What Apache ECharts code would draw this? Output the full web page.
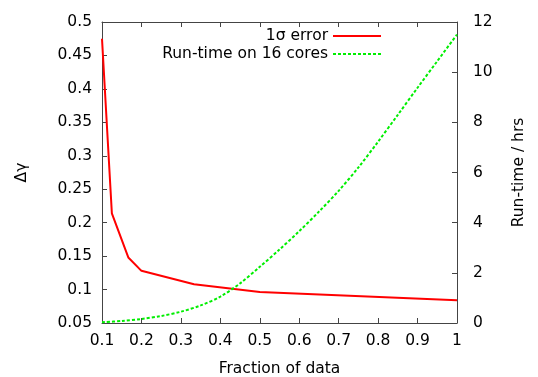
<!DOCTYPE html>
<html>
<head>
<meta charset="utf-8">
<script src="https://cdn.jsdelivr.net/npm/echarts@6/dist/echarts.min.js"></script>
<style>
  html, body { margin: 0; padding: 0; background: #fff; }
  #chart { width: 538px; height: 377px; }
</style>
</head>
<body>
<div id="chart"></div>
<script>
// 数据
const fraction = [0.1, 0.125, 0.1667, 0.2, 0.3333, 0.5, 1.0]
const errorVals = [0.475, 0.214, 0.148, 0.128, 0.108, 0.0963, 0.0839]

const runX = [0.1, 0.15, 0.2, 0.25, 0.3, 0.35, 0.4, 0.45, 0.5, 0.55,
              0.6, 0.65, 0.7, 0.75, 0.8, 0.85, 0.9, 0.95, 1.0]
const runHrs = [0.03, 0.08, 0.16, 0.28, 0.45, 0.7, 1.05, 1.58, 2.24, 2.93,
                3.66, 4.44, 5.27, 6.2, 7.23, 8.3, 9.38, 10.44, 11.5]

const font = 'DejaVu Sans'
const axisColor = '#444'

const chart = echarts.init(document.getElementById('chart'))

// 图例（两个，右对齐）
const legendBase = {
    right: 151,
    itemWidth: 48,
    itemHeight: 14,
    itemGap: 11,
    align: 'right',
    itemStyle: { opacity: 0 },
    textStyle: { fontFamily: font, fontSize: 15.5, color: '#000' }
}

chart.setOption({
    animation: false,
    textStyle: { fontFamily: font },
    grid: { left: 102, right: 81, top: 22, bottom: 54, outerBoundsMode: 'none' },
    legend: [
        Object.assign({ top: 23, data: ['1σ error'] }, legendBase),
        Object.assign({ top: 41, data: ['Run-time on 16 cores'] }, legendBase)
    ],
    xAxis: [
        {
            type: 'value', min: 0.1, max: 1, interval: 0.1,
            name: 'Fraction of data', nameLocation: 'middle', nameGap: 38,
            nameTextStyle: { fontFamily: font, fontSize: 15.5, color: '#000' },
            axisLine: { lineStyle: { color: axisColor } },
            axisTick: { inside: true, length: 5, lineStyle: { color: axisColor } },
            axisLabel: { margin: 10, fontFamily: font, fontSize: 15.5, color: '#000' },
            splitLine: { show: false }
        },
        {
            type: 'value', position: 'top', min: 0.1, max: 1, interval: 0.1,
            axisLine: { show: true, lineStyle: { color: axisColor } },
            axisTick: { show: true, inside: true, length: 5, lineStyle: { color: axisColor } },
            axisLabel: { show: false },
            splitLine: { show: false }
        }
    ],
    yAxis: [
        {
            type: 'value', min: 0.05, max: 0.5, interval: 0.05,
            name: 'Δγ', nameLocation: 'middle', nameGap: 72,
            nameTextStyle: { fontFamily: font, fontSize: 15.5, color: '#000' },
            axisLine: { show: true, lineStyle: { color: axisColor } },
            axisTick: { show: true, inside: true, length: 5, lineStyle: { color: axisColor } },
            axisLabel: { margin: 10, fontFamily: font, fontSize: 15.5, color: '#000' },
            splitLine: { show: false }
        },
        {
            type: 'value', position: 'right', min: 0, max: 12, interval: 2,
            name: 'Run-time / hrs', nameLocation: 'middle', nameGap: 54,
            nameTextStyle: { fontFamily: font, fontSize: 15.5, color: '#000' },
            axisLine: { show: true, lineStyle: { color: axisColor } },
            axisTick: { show: true, inside: true, length: 5, lineStyle: { color: axisColor } },
            axisLabel: { margin: 16, fontFamily: font, fontSize: 15.5, color: '#000' },
            splitLine: { show: false }
        }
    ],
    series: [
        {
            name: '1σ error',
            type: 'line',
            xAxisIndex: 0, yAxisIndex: 0,
            symbol: 'none',
            lineStyle: { color: '#ff0000', width: 2 },
            itemStyle: { color: '#ff0000' },
            data: fraction.map((x, i) => [x, errorVals[i]])
        },
        {
            name: 'Run-time on 16 cores',
            type: 'line',
            xAxisIndex: 0, yAxisIndex: 1,
            symbol: 'none',
            smooth: 0.3,
            lineStyle: { color: '#00ee00', width: 2, type: [3, 2] },
            itemStyle: { color: '#00ee00' },
            data: runX.map((x, i) => [x, runHrs[i]])
        }
    ]
})
</script>
</body>
</html>
